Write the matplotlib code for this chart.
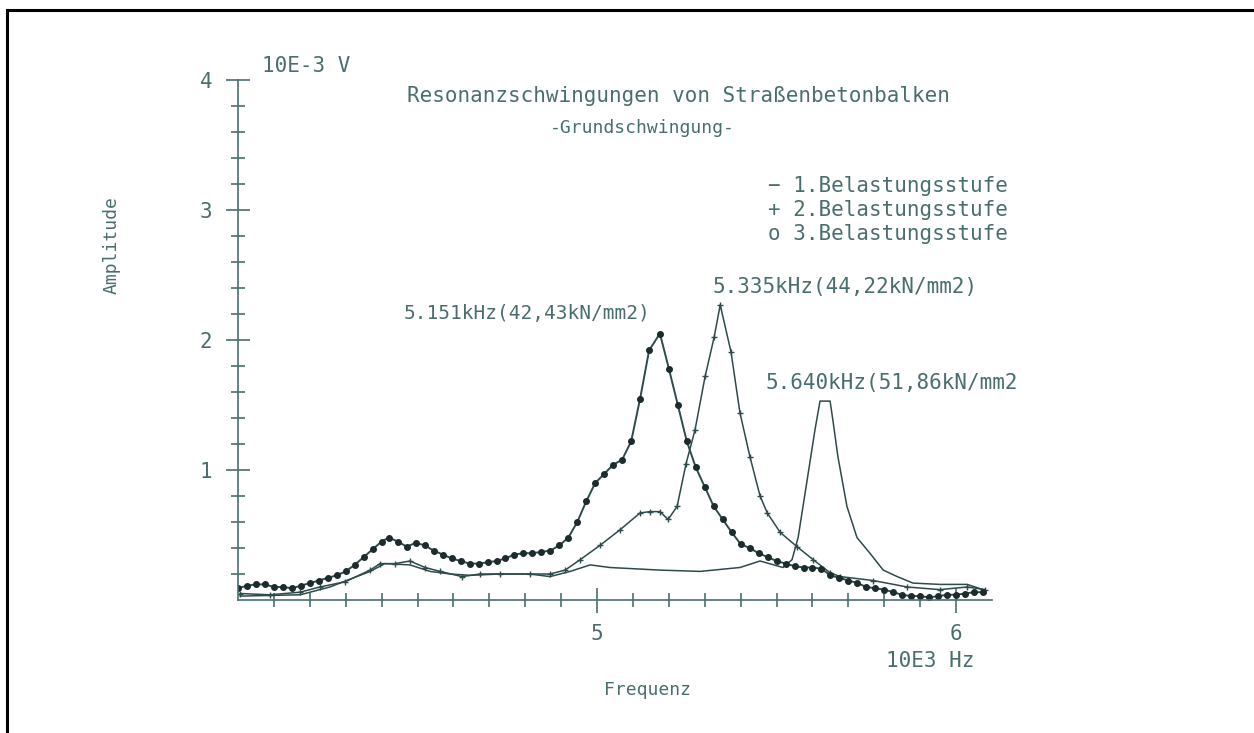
import matplotlib
matplotlib.use("Agg")
import matplotlib.pyplot as plt
from matplotlib.lines import Line2D

# Stufe 1 (durchgezogene Linie)
f1 = [4.006, 4.173, 4.256, 4.368, 4.409, 4.479, 4.535, 4.591, 4.646, 4.730,
      4.813, 4.869, 4.925, 4.981, 5.036, 5.175, 5.287, 5.398, 5.454, 5.518,
      5.543, 5.560, 5.585, 5.607, 5.621, 5.649, 5.657, 5.671, 5.696, 5.724,
      5.760, 5.797, 5.836, 5.880, 5.955, 6.031, 6.075]
a1 = [0.03, 0.04, 0.10, 0.22, 0.28, 0.27, 0.22, 0.20, 0.19, 0.20,
      0.20, 0.18, 0.22, 0.27, 0.25, 0.23, 0.22, 0.25, 0.30, 0.25,
      0.31, 0.48, 0.92, 1.31, 1.53, 1.53, 1.38, 1.10, 0.72, 0.48,
      0.36, 0.23, 0.18, 0.13, 0.12, 0.12, 0.08]

# Stufe 2 (+)
f2 = [4.006, 4.089, 4.173, 4.228, 4.298, 4.368, 4.396, 4.437, 4.479, 4.521,
      4.563, 4.624, 4.674, 4.730, 4.813, 4.869, 4.911, 4.953, 5.008, 5.064,
      5.120, 5.148, 5.175, 5.198, 5.223, 5.248, 5.273, 5.301, 5.326, 5.343,
      5.373, 5.398, 5.426, 5.454, 5.474, 5.510, 5.557, 5.602, 5.649, 5.677,
      5.769, 5.864, 5.955, 6.031, 6.081]
a2 = [0.05, 0.04, 0.06, 0.10, 0.14, 0.23, 0.28, 0.28, 0.30, 0.25,
      0.22, 0.18, 0.20, 0.20, 0.20, 0.20, 0.23, 0.31, 0.42, 0.54,
      0.67, 0.68, 0.68, 0.62, 0.72, 1.05, 1.31, 1.72, 2.02, 2.27,
      1.91, 1.44, 1.10, 0.80, 0.67, 0.52, 0.41, 0.31, 0.21, 0.18,
      0.15, 0.10, 0.08, 0.10, 0.08]

# Stufe 3 (o)
f3 = [4.000, 4.025, 4.050, 4.075, 4.100, 4.125, 4.150, 4.175, 4.200, 4.225,
      4.250, 4.275, 4.300, 4.325, 4.350, 4.375, 4.400, 4.420, 4.445, 4.470,
      4.495, 4.520, 4.545, 4.570, 4.595, 4.620, 4.645, 4.670, 4.695, 4.720,
      4.745, 4.770, 4.795, 4.820, 4.845, 4.870, 4.895, 4.920, 4.945, 4.970,
      4.995, 5.020, 5.045, 5.070, 5.095, 5.120, 5.145, 5.175, 5.200, 5.225,
      5.250, 5.275, 5.300, 5.325, 5.350, 5.375, 5.400, 5.425, 5.450, 5.475,
      5.500, 5.525, 5.550, 5.575, 5.600, 5.625, 5.650, 5.675, 5.700, 5.725,
      5.750, 5.775, 5.800, 5.825, 5.850, 5.875, 5.900, 5.925, 5.950, 5.975,
      6.000, 6.025, 6.050, 6.075]
a3 = [0.09, 0.11, 0.12, 0.12, 0.10, 0.10, 0.09, 0.11, 0.13, 0.15,
      0.17, 0.19, 0.22, 0.27, 0.33, 0.39, 0.45, 0.48, 0.45, 0.41,
      0.44, 0.42, 0.38, 0.35, 0.32, 0.30, 0.28, 0.28, 0.29, 0.30,
      0.32, 0.35, 0.36, 0.36, 0.37, 0.38, 0.42, 0.48, 0.60, 0.76,
      0.90, 0.97, 1.04, 1.08, 1.22, 1.55, 1.92, 2.05, 1.78, 1.50,
      1.22, 1.02, 0.87, 0.72, 0.62, 0.52, 0.43, 0.40, 0.36, 0.33,
      0.30, 0.28, 0.26, 0.25, 0.25, 0.24, 0.19, 0.17, 0.15, 0.13,
      0.10, 0.09, 0.08, 0.06, 0.04, 0.03, 0.03, 0.02, 0.03, 0.04,
      0.04, 0.05, 0.06, 0.06]

legend_labels = ["\u2212 1.Belastungsstufe", "+ 2.Belastungsstufe", "o 3.Belastungsstufe"]
peak_labels = ["5.151kHz(42,43kN/mm2)", "5.335kHz(44,22kN/mm2)", "5.640kHz(51,86kN/mm2"]

W, H = 1254, 733
ink = "#2e4a4a"
txt = "#4a6e6e"
mono = "DejaVu Sans Mono"

fig = plt.figure(figsize=(W / 100, H / 100), dpi=100)
ax = fig.add_axes([238 / W, 1 - 600 / H, (992 - 238) / W, 520 / H])

ax.plot(f1, a1, color=ink, lw=1.1)
ax.plot(f2, a2, color=ink, lw=1.1, marker="+", ms=5, mew=1.0)
ax.plot(f3, a3, color=ink, lw=1.4, marker="o", ms=4.0, mfc="#1c2b2b", mec="#1c2b2b")

ax.set_xlim(4.0, 6.1)
ax.set_ylim(0, 4)
for s in ["top", "right"]:
    ax.spines[s].set_visible(False)
for s in ["left", "bottom"]:
    ax.spines[s].set_color(txt)
    ax.spines[s].set_linewidth(1.2)

ax.set_xticks([5, 6])
ax.set_xticks([4.1 + 0.1 * i for i in range(20) if i not in (9, 19)], minor=True)
ax.set_yticks([1, 2, 3, 4])
ax.set_yticks([0.2 * i for i in range(1, 20) if i % 5], minor=True)
ax.tick_params(axis="both", which="both", direction="inout", colors=txt, width=1.2)
ax.tick_params(axis="x", which="major", length=18, pad=8)
ax.tick_params(axis="x", which="minor", length=10)
ax.tick_params(axis="y", which="major", length=17, pad=10)
ax.tick_params(axis="y", which="minor", length=10)
ax.tick_params(labelsize=15)
for lab in ax.get_xticklabels() + ax.get_yticklabels():
    lab.set_fontfamily(mono)


def ftext(x, y, s, size=14, **kw):
    fig.text(x / W, 1 - y / H, s, fontsize=size, family=mono, color=txt,
             ha="center", va="center", **kw)


ftext(306, 66, "10E-3 V", size=15)
ftext(678, 96, "Resonanzschwingungen von Straßenbetonbalken", size=15)
ftext(642, 128, "-Grundschwingung-", size=13)
for i, lab in enumerate(legend_labels):
    ftext(888, 186 + i * 24, lab, size=15)
ftext(527, 314, peak_labels[0], size=14)
ftext(845, 287, peak_labels[1], size=15)
ftext(892, 383, peak_labels[2], size=15)
ftext(112, 245, "Amplitude", size=13, rotation=90)
ftext(648, 690, "Frequenz", size=13)
ftext(930, 661, "10E3 Hz", size=15)

# Rahmen
fig.add_artist(Line2D([7 / W, 7 / W], [0, 1 - 10 / H], transform=fig.transFigure, color="black", lw=2.2))
fig.add_artist(Line2D([7 / W, 1], [1 - 10 / H, 1 - 10 / H], transform=fig.transFigure, color="black", lw=2.2))

fig.savefig("out.png", dpi=100, facecolor="white")
